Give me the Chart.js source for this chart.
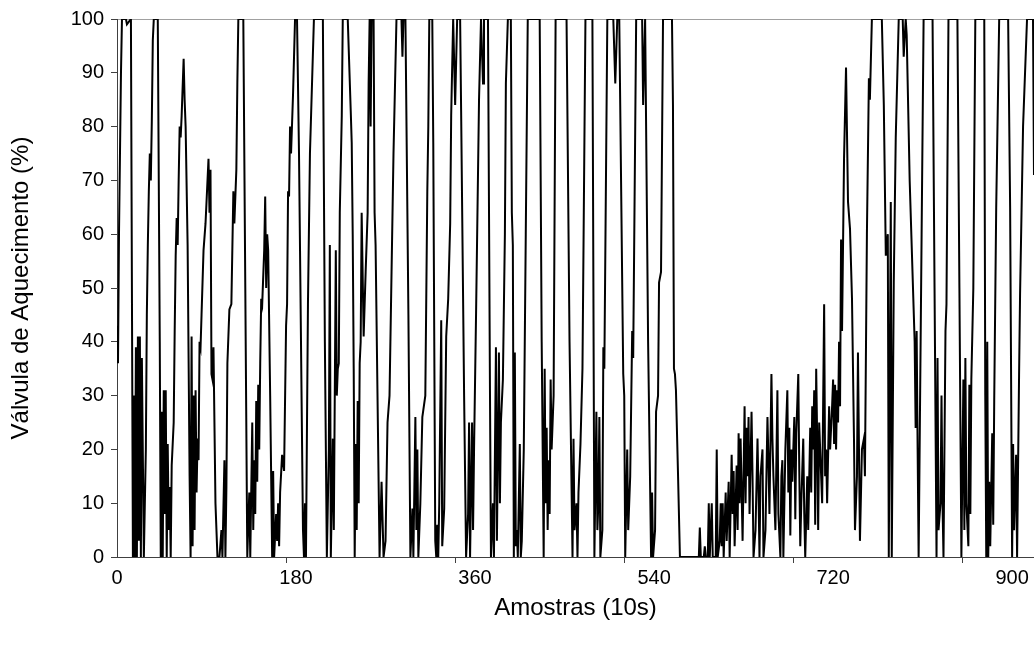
<!DOCTYPE html>
<html><head><meta charset="utf-8">
<script src="https://cdn.jsdelivr.net/npm/chart.js@4"></script>
<style>html,body{margin:0;padding:0;background:#fff;} #wrap{width:1034px;height:656px;}</style>
</head><body><div id="wrap"><canvas id="c" width="1034" height="656"></canvas></div>
<script>
// sample index (10 s steps) and heating valve opening (%)
const sampleIdx = [0,1,2,4,5,9,10,14,16,17,18,19,20,21,22,23,24,25,27,29,30,31,32,33,34,35,36,37,41,43,44,45,46,47,48,49,50,51,52,53,54,55,57,58,59,60,61,62,63,64,65,67,68,69,71,73,74,75,76,77,78,79,80,81,82,83,84,85,87,89,
92,93,94,95,96,97,99,101,103,105,106,108,109,110,111,113,115,117,118,120,121,122,127,129,131,133,134,136,137,138,139,140,141,142,143,144,145,146,148,149,150,151,152,154,156,157,158,160,161,162,163,164,166,168,170,171,172,173,174,175,177,179,181,183,187,188,189,190,191,192,194,198,207,209,211,213,214,215,217,218,220,221,222,223,224,226,227,232,235,236,237,238,239,240,241,242,243,244,245,246,248,250,252,253,254,255,256,258,259,260,264,266,268,
270,272,274,278,281,286,287,288,290,293,295,297,298,300,301,302,303,305,307,310,312,313,314,317,318,320,321,322,323,324,326,327,329,331,333,335,336,338,340,342,345,346,349,351,353,354,355,357,358,359,361,364,366,368,369,373,375,376,378,379,381,382,384,385,386,388,390,391,393,396,397,398,399,400,401,402,403,405,406,407,409,411,413,425,427,429,430,431,432,433,434,435,436,437,439,441,448,
452,455,458,459,460,462,463,464,466,468,471,478,480,482,483,484,485,486,488,489,490,493,499,501,503,505,509,510,511,513,514,516,518,519,522,528,529,531,534,537,538,539,541,542,544,545,547,549,558,559,560,561,562,564,566,585,586,587,590,591,592,594,595,596,598,599,602,603,604,606,607,608,609,610,612,613,615,616,618,619,620,621,623,624,625,626,627,
629,631,632,633,634,635,636,638,639,640,642,644,645,646,647,649,650,652,654,655,656,658,659,660,662,664,665,667,668,669,670,672,674,675,676,677,678,679,681,682,683,685,686,687,688,690,691,692,694,695,697,698,699,700,701,702,703,704,705,706,707,709,711,712,713,714,716,717,719,720,721,722,723,724,725,726,727,728,729,731,733,735,737,739,741,742,743,744,745,747,749,751,752,754,756,757,759,769,771,773,775,776,778,779,781,783,786,790,791,793,794,797,802,803,804,805,806,
809,811,820,822,824,825,826,828,829,830,831,833,834,836,845,847,849,851,852,853,854,856,857,858,859,861,863,872,873,874,875,876,877,878,880,881,882,884,887,896,898,900,901,902,904,905,907,908,911,915,921,922];
const valvePct = [43,36,60,90,100,100,99,100,0,30,0,39,0,41,3,41,0,37,0,20,45,58,68,75,70,81,96,100,100,40,0,27,0,31,8,31,0,21,5,13,0,17,25,42,56,63,58,70,80,78,82,92.6,85,80,58,15,0,41,2,30,5,31,12,22,18,40,39,45,57,62,
74,64,72,34,33,39,10,0,0,5,0,18,0,13,36,46,47,68,62,72,88,100,100,50,0,12,0,25,5,18,8,29,14,32,20,36,48,47,57,67,50,60,57,30,0,16,0,8,3,10,2,12,19,16,43,47,68,67,80,75,86,100,100,75,5,0,10,0,24,47,75,100,100,40,0,20,58,0,22,5,57,30,35,36,64,82,100,100,83,77,60,35,0,21,5,29,10,36,40,64,41,53,64,88,100,80,100,100,64,58,0,14,0,
3,25,30,75,100,100,93,100,100,45,0,9,0,26,5,20,0,10,26,30,68,80,100,100,77,3,0,6,0,10,44,2,9,41,48,62,82,100,84,100,100,83,30,0,8,25,0,25,5,20,45,85,100,88,100,100,31,0,10,0,39,3,38,10,25,33,60,88,100,100,64,58,0,38,2,5,0,21,0,3,20,60,100,100,40,0,35,10,24,5,18,8,33,20,30,100,100,
100,40,0,22,5,10,0,12,21,35,100,100,0,27,5,10,26,0,5,39,35,100,100,88,100,100,34,30,0,20,5,15,42,37,100,100,84,100,40,0,12,0,5,27,30,51,53,100,100,84,35,34,31,16,0,0,5.5,0,0,2,0,0,10,0,10,0,0,20,0,3,10,2,10,0,12,3,14,0,19,8,16,2,17,5,23,10,22,
3,28,10,24,15,26,8,27,15,0,5,22,12,0,15,20,0,5,26,18,8,34,22,15,5,31,8,0,15,18,0,20,31,12,24,4,20,14,26,7,23,34,16,2,10,22,8,0,15,5,24,12,28,20,31,6,35,22,5,25,20,10,47,15,20,10,28,20,28,33,21,32,20,31,25,40,28,59,42,74,91,66,61,48,22,5,10,15,38,3,20,22,15,60,89,85,100,100,84,56,60,0,66,0,51,78,100,100,93,100,97,70,40,24,42,20,0,
60,100,100,50,0,37,5,10,30,10,0,42,47,100,100,50,0,33,5,37,10,2,32,8,33,50,100,100,30,0,40,0,14,2,23,6,29,65,100,100,65,0,21,5,19,0,34,49,80,100,100,71];
const xLabelTicks = [0,180,360,540,720,900];
const xMarkTicks = [170,340,510,680,850];
const yTicks = [0,10,20,30,40,50,60,70,80,90,100];
const xTitle = 'Amostras (10s)';
const yTitle = 'Válvula de Aquecimento (%)';

const points = sampleIdx.map((s,i)=>({x:s,y:valvePct[i]}));
const FONT = '"Liberation Sans", Arial, sans-serif';
new Chart(document.getElementById('c'), {
  type:'line',
  data:{datasets:[{data:points,borderColor:'#000',borderWidth:2,pointRadius:0,tension:0,fill:false,borderJoinStyle:'miter'}]},
  options:{
    responsive:false, animation:false,
    layout:{padding:{top:18,right:0,bottom:0,left:0}},
    plugins:{legend:{display:false},tooltip:{enabled:false}},
    scales:{
      x:{type:'linear',min:0,max:922,
        afterBuildTicks:(s)=>{ s.ticks = [...xLabelTicks, ...xMarkTicks].sort((a,b)=>a-b).map(v=>({value:v})); },
        afterFit:(s)=>{ s.height = 99; },
        ticks:{autoSkip:false,maxRotation:0,color:'#000',font:{family:FONT,size:20},padding:3,
          callback:(v)=> xLabelTicks.includes(v) ? String(v) : ''},
        grid:{drawOnChartArea:false,drawTicks:true,tickLength:6,
          tickColor:(c)=> xMarkTicks.includes(c.tick.value) ? '#404040' : 'rgba(0,0,0,0)'},
        border:{display:true,color:'#404040',width:1},
        title:{display:true,text:xTitle,color:'#000',font:{family:FONT,size:24},padding:{top:0,bottom:33}}
      },
      y:{min:0,max:100,
        afterBuildTicks:(s)=>{ s.ticks = yTicks.map(v=>({value:v})); },
        afterFit:(s)=>{ s.width = 117; },
        ticks:{color:'#000',font:{family:FONT,size:20},padding:7},
        grid:{color:(c)=> c.tick.value===100 ? '#a0a0a0' : 'rgba(0,0,0,0)',tickColor:'#404040',tickLength:6,drawTicks:true},
        border:{display:true,color:'#404040',width:1},
        title:{display:true,text:yTitle,color:'#000',font:{family:FONT,size:24},padding:{top:7,bottom:0}}
      }
    }
  }
});
</script>
</body></html>
